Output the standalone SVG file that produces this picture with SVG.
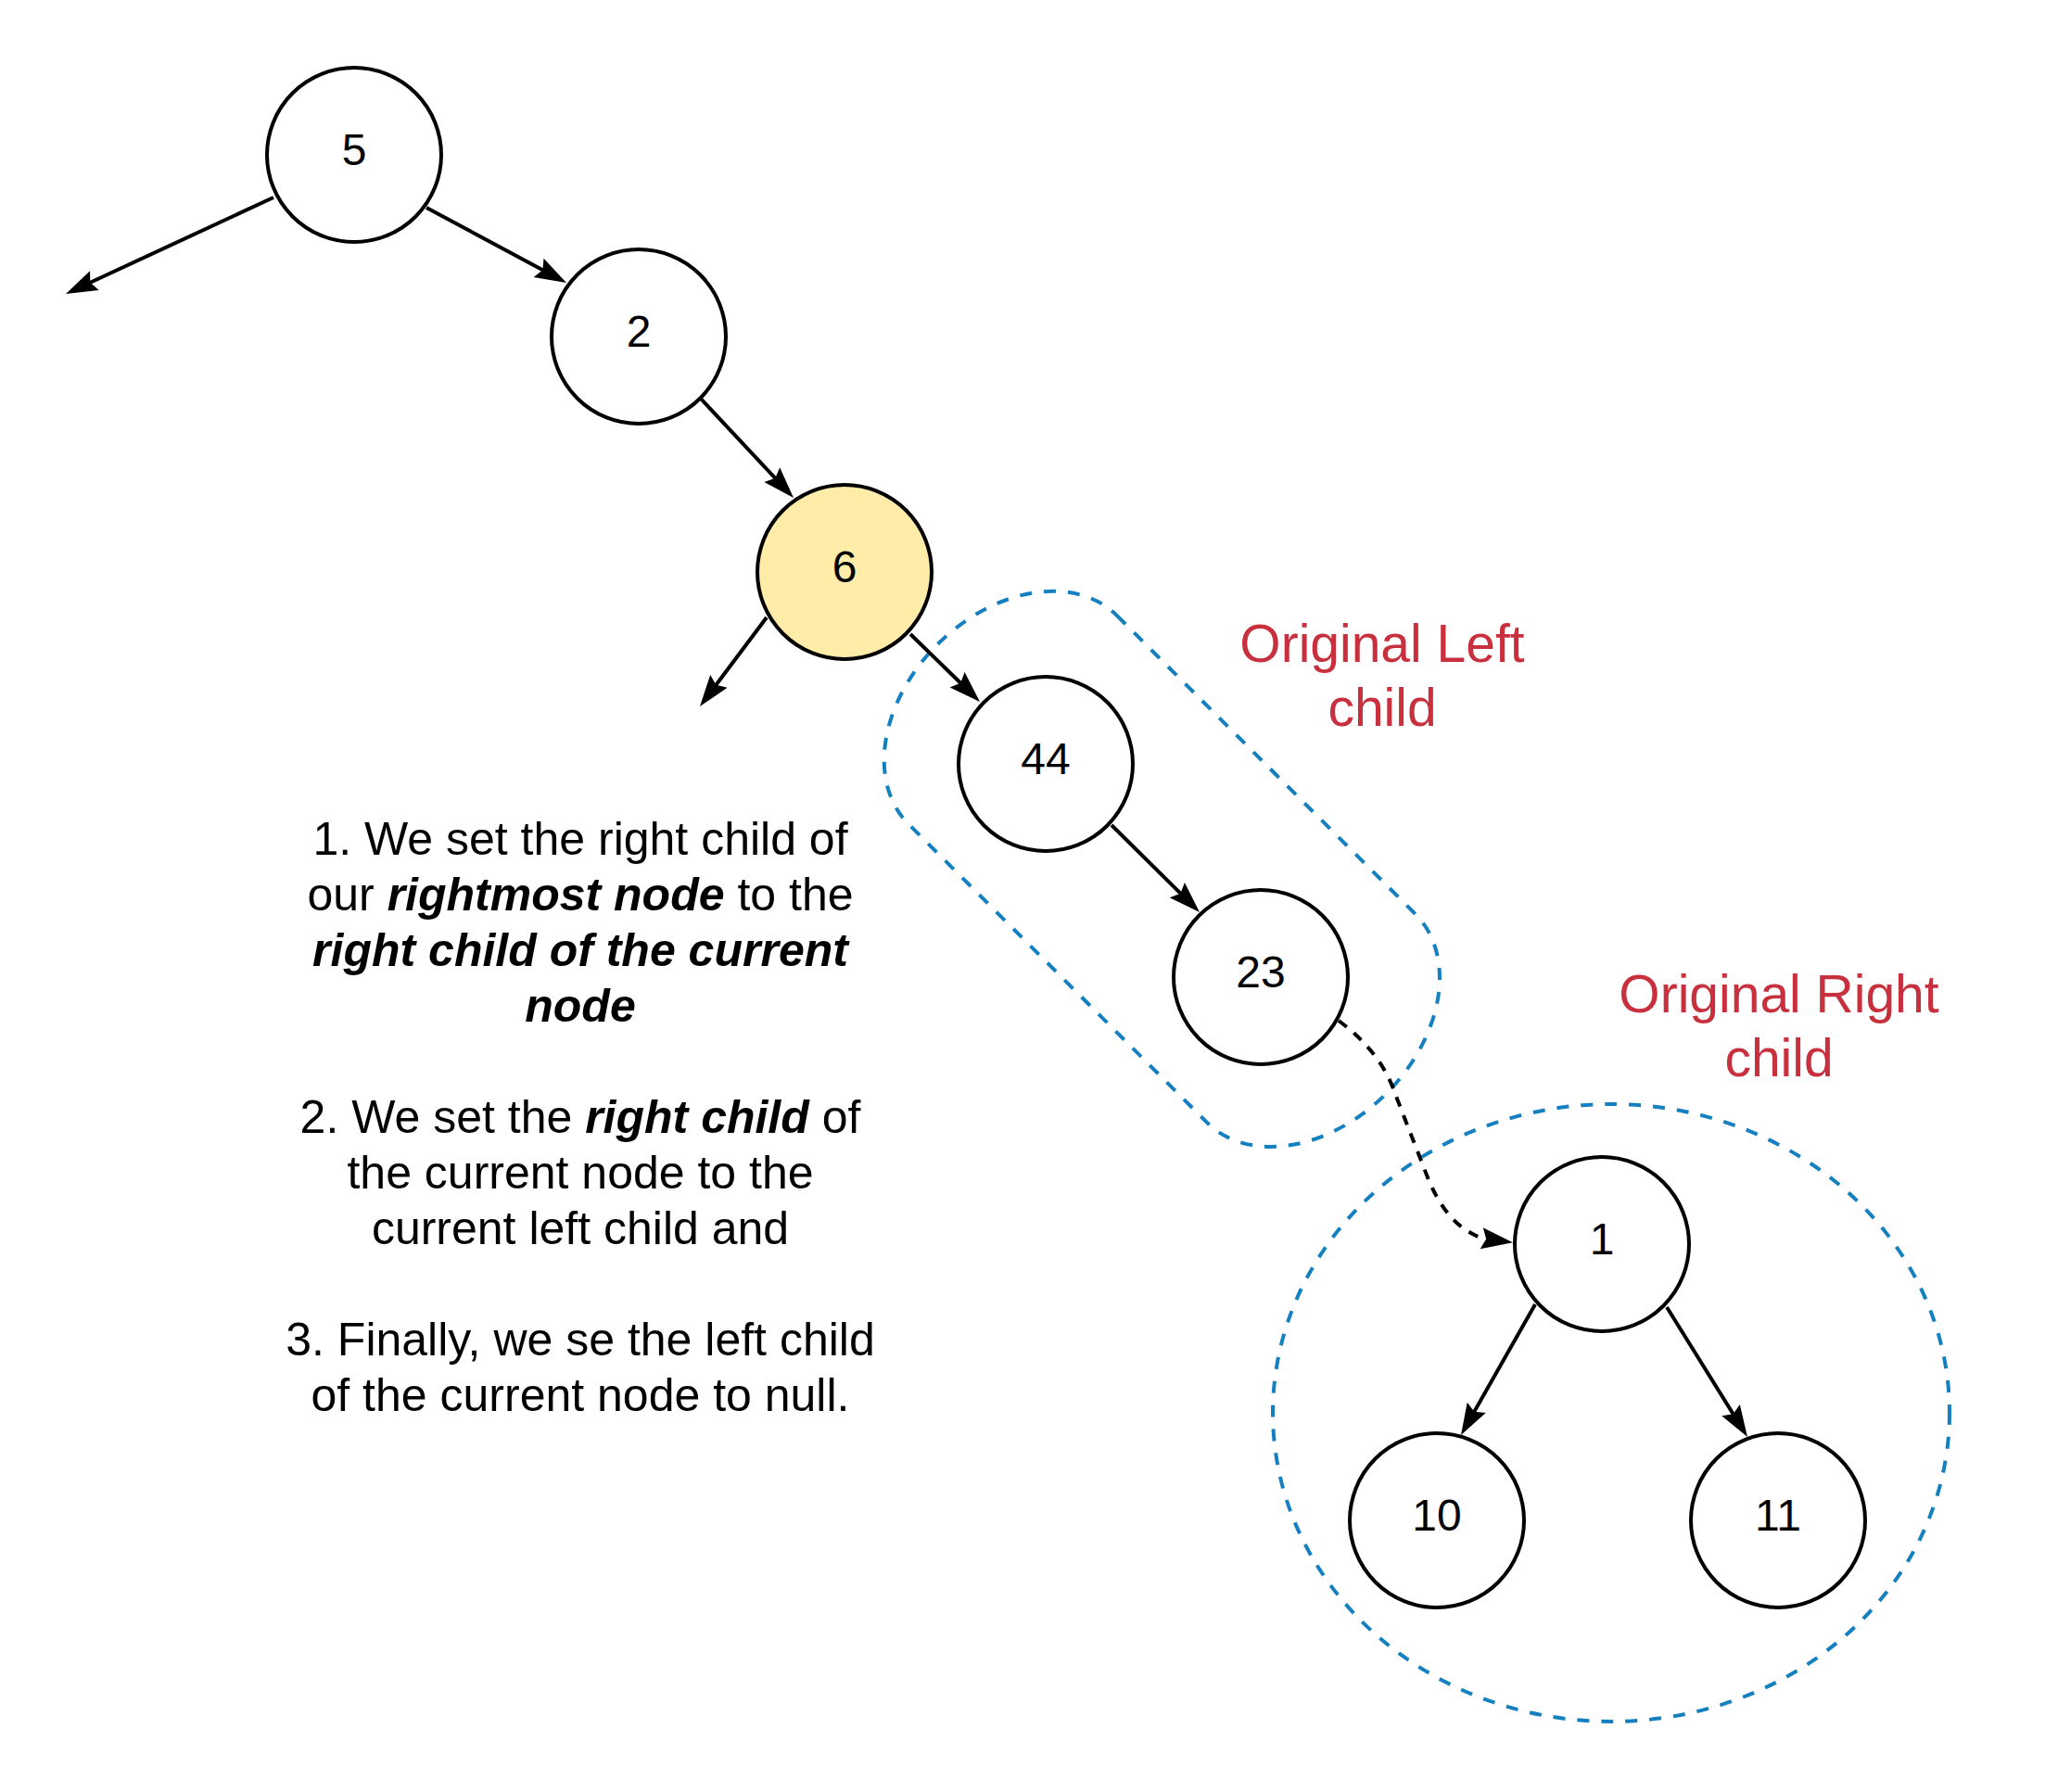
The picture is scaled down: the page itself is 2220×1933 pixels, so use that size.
<svg xmlns="http://www.w3.org/2000/svg" width="2220" height="1933" viewBox="0 0 2220 1933">
<style>
.node{fill:#ffffff;stroke:#000000;stroke-width:4}
.lbl{font-family:"Liberation Sans",Arial,sans-serif;font-size:48px;fill:#000000;text-anchor:middle}
.edge{fill:none;stroke:#000000;stroke-width:4}
.dash{fill:none;stroke:#000000;stroke-width:4;stroke-dasharray:11 10}
.group{fill:none;stroke:#1580C0;stroke-width:4;stroke-dasharray:13 13}
.red{font-family:"Liberation Sans",Arial,sans-serif;font-size:57px;fill:#C9303E;text-anchor:middle}
.desc{font-family:"Liberation Sans",Arial,sans-serif;font-size:50px;fill:#000000;text-anchor:middle}
.bi{font-weight:bold;font-style:italic}
</style>
<defs>
<marker id="arr" markerUnits="userSpaceOnUse" markerWidth="36" markerHeight="26" refX="24" refY="12" orient="auto" overflow="visible">
<path d="M0,0.5 L34,12 L0,23.5 L5,12 Z" fill="#000000" stroke="none"/>
</marker>
</defs>
<rect width="2220" height="1933" fill="#ffffff"/>

<g id="groups">
<rect class="group" x="-342" y="-159" width="685" height="318" rx="115" ry="159" transform="translate(1253,937) rotate(45)"/>
<ellipse class="group" cx="1738" cy="1524" rx="365" ry="333"/>
</g>

<g id="connectors">
<line class="edge" x1="295" y1="213" x2="80.1" y2="312.8" marker-end="url(#arr)"/>
<line class="edge" x1="460" y1="224" x2="602.2" y2="300.3" marker-end="url(#arr)"/>
<line class="edge" x1="755" y1="429" x2="849.2" y2="529.7" marker-end="url(#arr)"/>
<line class="edge" x1="827" y1="666" x2="761" y2="754" marker-end="url(#arr)"/>
<line class="edge" x1="982" y1="684" x2="1049.8" y2="750" marker-end="url(#arr)"/>
<line class="edge" x1="1199" y1="890" x2="1286.9" y2="977" marker-end="url(#arr)"/>
<line class="edge" x1="1656" y1="1407" x2="1580.9" y2="1539.3" marker-end="url(#arr)"/>
<line class="edge" x1="1798" y1="1410" x2="1879.7" y2="1541.5" marker-end="url(#arr)"/>
<path class="dash" d="M1444,1101 C1475,1124 1495,1150 1505,1180 L1540,1270 C1552,1300 1570,1326 1600,1336 L1622,1339" marker-end="url(#arr)"/>
</g>

<g id="node-5"><circle class="node" cx="382" cy="167" r="94"/><text class="lbl" x="382" y="178">5</text></g>
<g id="node-2"><circle class="node" cx="689" cy="363" r="94"/><text class="lbl" x="689" y="374">2</text></g>
<g id="node-6"><circle class="node" cx="911" cy="617" r="94" style="fill:#FFECA8"/><text class="lbl" x="911" y="628">6</text></g>
<g id="node-44"><circle class="node" cx="1128" cy="824" r="94"/><text class="lbl" x="1128" y="835">44</text></g>
<g id="node-23"><circle class="node" cx="1360" cy="1054" r="94"/><text class="lbl" x="1360" y="1065">23</text></g>
<g id="node-1"><circle class="node" cx="1728" cy="1342" r="94"/><text class="lbl" x="1728" y="1353">1</text></g>
<g id="node-10"><circle class="node" cx="1550" cy="1640" r="94"/><text class="lbl" x="1550" y="1651">10</text></g>
<g id="node-11"><circle class="node" cx="1918" cy="1640" r="94"/><text class="lbl" x="1918" y="1651">11</text></g>

<g id="label-left">
<text class="red" x="1491" y="714">Original Left</text>
<text class="red" x="1491" y="783">child</text>
</g>
<g id="label-right">
<text class="red" x="1919" y="1092">Original Right</text>
<text class="red" x="1919" y="1161">child</text>
</g>

<g id="description">
<text class="desc" x="626" y="922">1. We set the right child of</text>
<text class="desc" x="626" y="982">our <tspan class="bi">rightmost node</tspan> to the</text>
<text class="desc" x="626" y="1042"><tspan class="bi">right child of the current</tspan></text>
<text class="desc" x="626" y="1102"><tspan class="bi">node</tspan></text>
<text class="desc" x="626" y="1222">2. We set the <tspan class="bi">right child</tspan> of</text>
<text class="desc" x="626" y="1282">the current node to the</text>
<text class="desc" x="626" y="1342">current left child and</text>
<text class="desc" x="626" y="1462">3. Finally, we se the left child</text>
<text class="desc" x="626" y="1522">of the current node to null.</text>
</g>
</svg>
